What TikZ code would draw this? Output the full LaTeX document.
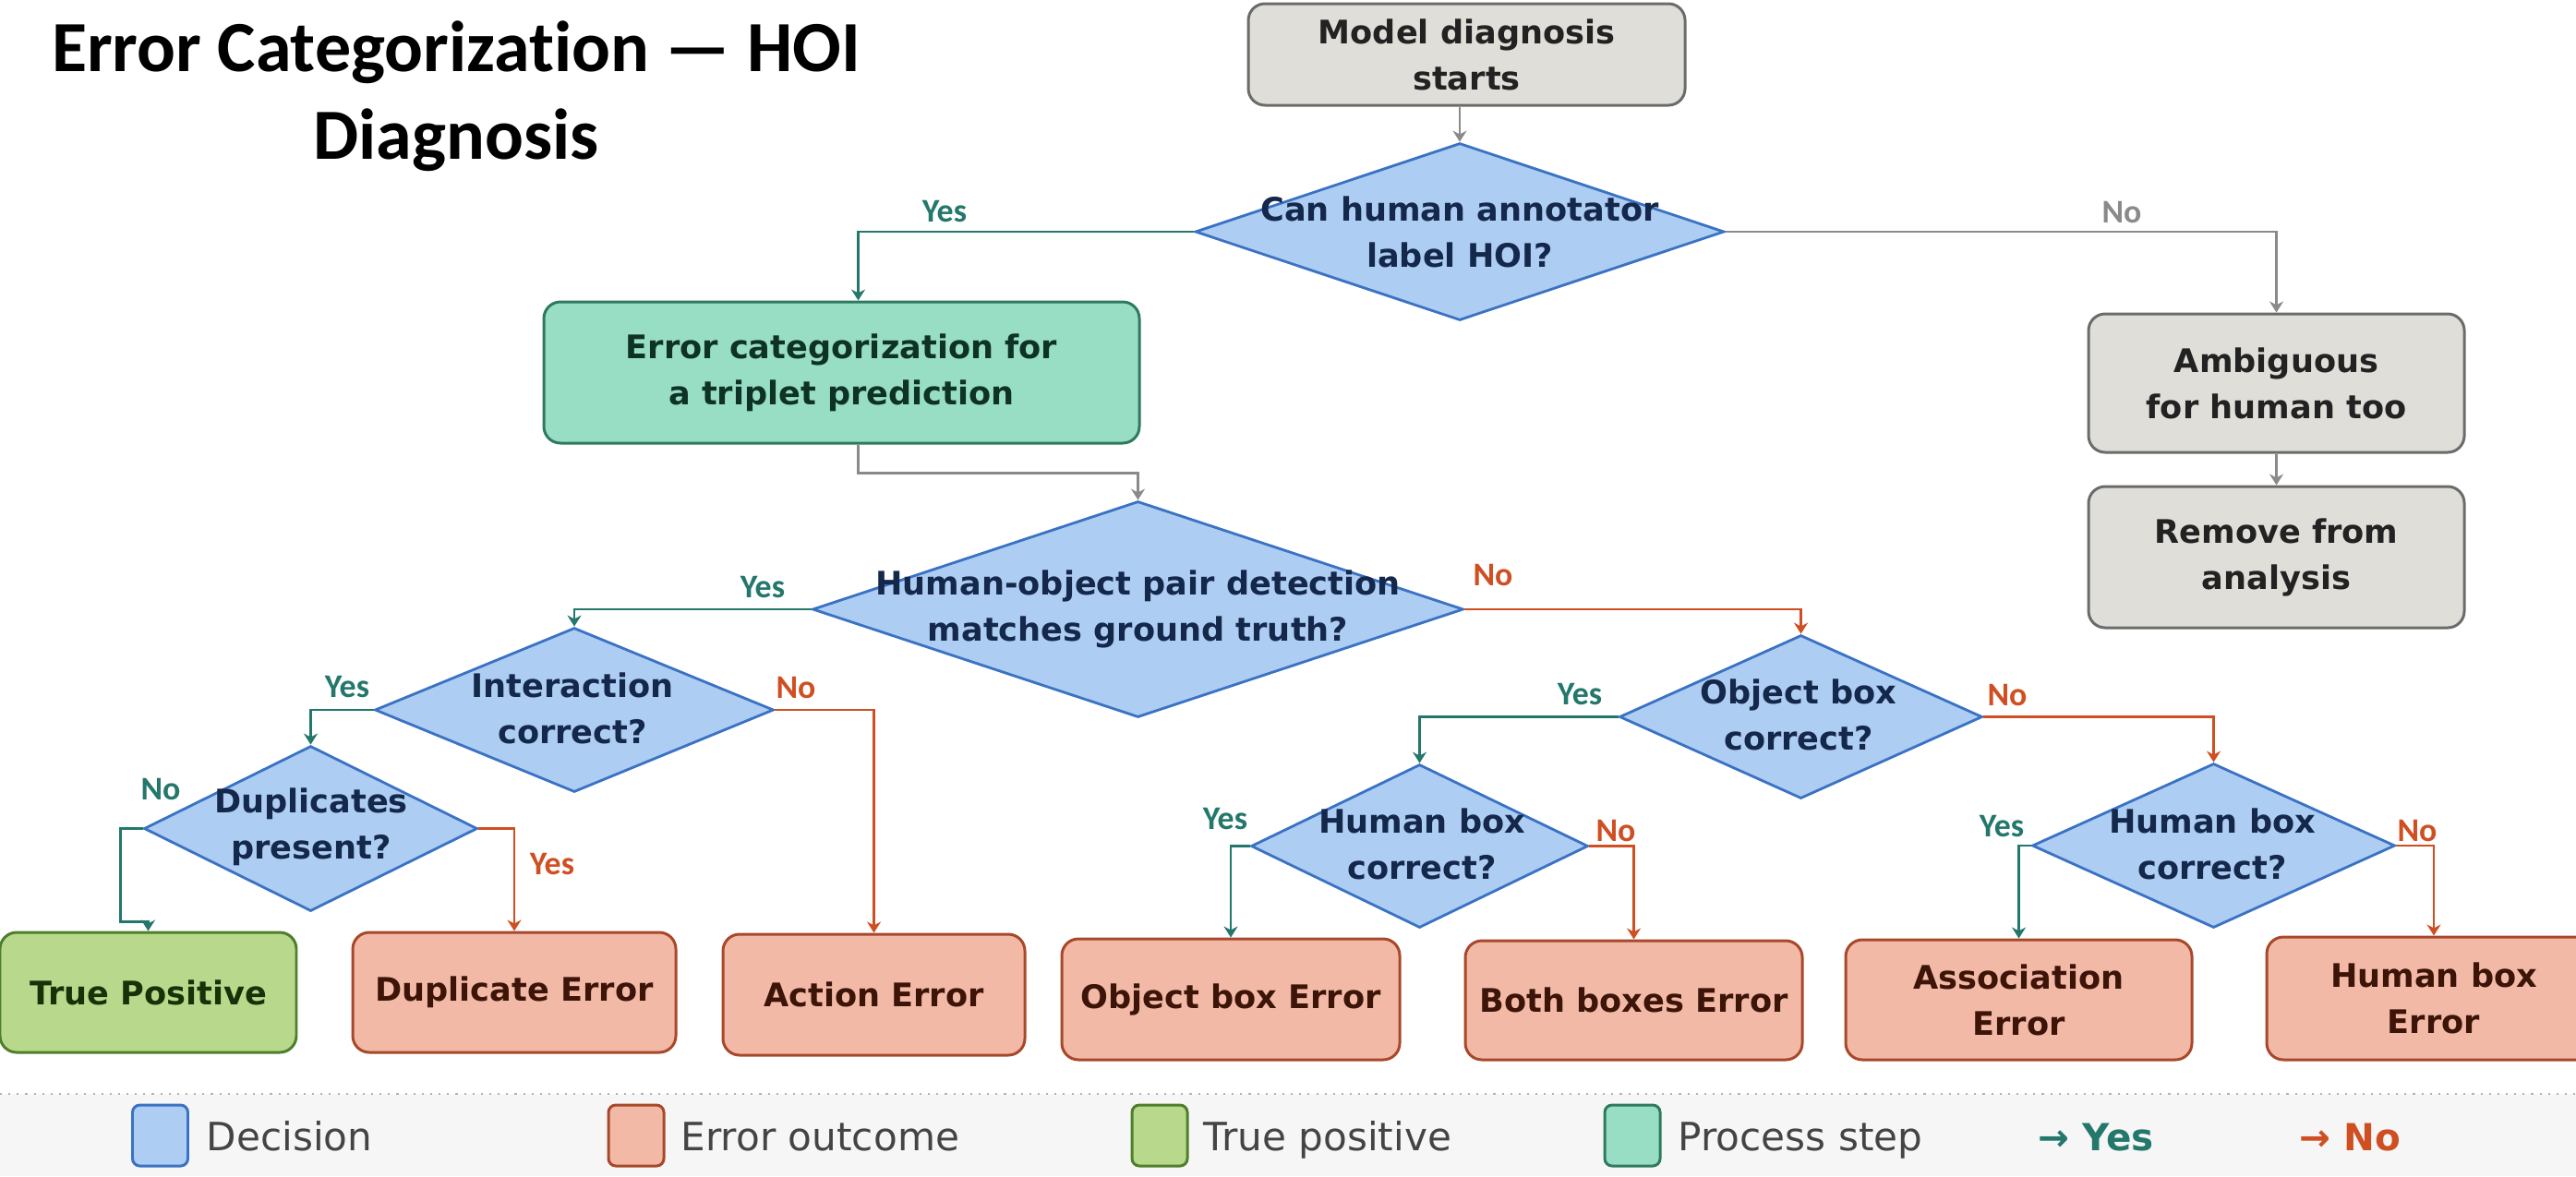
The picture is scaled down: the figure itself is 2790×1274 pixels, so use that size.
\documentclass[tikz,border=0pt]{standalone}
\usepackage{fontspec}
\setmainfont{DejaVu Sans}
\newfontfamily\titlefont[Ligatures=NoCommon]{Carlito}
\usetikzlibrary{shapes.geometric,arrows.meta}
\definecolor{decfill}{HTML}{AECDF2}
\definecolor{decline}{HTML}{3A72C4}
\definecolor{dectext}{HTML}{14284B}
\definecolor{errfill}{HTML}{F2B9A6}
\definecolor{errline}{HTML}{A8482A}
\definecolor{errtext}{HTML}{3D1408}
\definecolor{tpfill}{HTML}{B8D88B}
\definecolor{tpline}{HTML}{4F7F2A}
\definecolor{tptext}{HTML}{173208}
\definecolor{procfill}{HTML}{98DEC4}
\definecolor{procline}{HTML}{2E7A60}
\definecolor{proctext}{HTML}{0E3326}
\definecolor{grayfill}{HTML}{E0DED8}
\definecolor{grayline}{HTML}{6B6B6B}
\definecolor{graytext}{HTML}{222222}
\definecolor{yesc}{HTML}{23776B}
\definecolor{noc}{HTML}{CF4F23}
\definecolor{connc}{HTML}{8A8A8A}
\definecolor{legbg}{HTML}{F6F6F6}
\definecolor{legtxt}{HTML}{444444}
\tikzset{
  nodefont/.style={font=\bfseries\fontsize{10}{14.2}\selectfont},
  box/.style={rectangle, rounded corners=1.8mm, line width=0.85pt, inner sep=0, align=center, nodefont},
  graybox/.style={box, fill=grayfill, draw=grayline, text=graytext},
  procbox/.style={box, fill=procfill, draw=procline, text=proctext},
  errbox/.style={box, fill=errfill, draw=errline, text=errtext},
  tpbox/.style={box, fill=tpfill, draw=tpline, text=tptext},
  decision/.style={diamond, fill=decfill, draw=decline, line width=0.8pt, inner sep=0},
  dtext/.style={align=center, text=dectext, inner sep=0, nodefont},
  conn/.style={line width=0.7pt, -{Stealth[length=1.2mm,width=1.5mm]}},
  yesline/.style={conn, draw=yesc},
  noline/.style={conn, draw=noc},
  grayline/.style={conn, draw=connc},
  lab/.style={font=\titlefont\bfseries\fontsize{10.2}{12}\selectfont, inner sep=0},
  ylab/.style={lab, text=yesc},
  nlab/.style={lab, text=noc},
  glab/.style={lab, text=connc},
  swatch/.style={rectangle, rounded corners=0.8mm, line width=0.85pt, minimum width=6mm, minimum height=6.6mm, inner sep=0},
  legtext/.style={font=\fontsize{12}{14}\selectfont, text=legtxt, inner sep=0, anchor=base west},
  titlestyle/.style={font=\titlefont\bfseries\fontsize{22.2}{27}\selectfont, inner sep=0, anchor=base}
}
\begin{document}
\begin{tikzpicture}[x=0.1mm,y=-0.1mm]
\useasboundingbox (0,0) rectangle (2790,1274);
\clip (0,0) rectangle (2790,1274);

% title
\node[titlestyle] (t1) at (494,77) {Error Categorization — HOI};
\node[titlestyle] (t2) at (494,172) {Diagnosis};

% top boxes
\node[graybox, minimum width=47.3mm, minimum height=11mm] (start) at (1588.5,59) {Model diagnosis\\starts};
\node[decision, minimum width=57.3mm, minimum height=19.2mm] (d1) at (1581,251) {};
\node[dtext] (d1t) at (1581,251) {Can human annotator\\label HOI?};
\node[graybox, minimum width=40.7mm, minimum height=15mm] (amb) at (2465.5,415) {Ambiguous\\for human too};
\node[graybox, minimum width=40.7mm, minimum height=15.3mm] (rem) at (2465.5,603.5) {Remove from\\analysis};
\node[procbox, minimum width=64.5mm, minimum height=15.3mm] (proc) at (911.5,403.5) {Error categorization for\\a triplet prediction};

% decisions
\node[decision, minimum width=70.5mm, minimum height=23.4mm] (d2) at (1232.5,660) {};
\node[dtext] (d2t) at (1232.5,660) {Human-object pair detection\\matches ground truth?};
\node[decision, minimum width=43.2mm, minimum height=17.8mm] (d3) at (622,769) {};
\node[dtext] (d3t) at (620,767) {Interaction\\correct?};
\node[decision, minimum width=36.1mm, minimum height=17.9mm] (d5) at (336.5,897.5) {};
\node[dtext] (d5t) at (337,896) {Duplicates\\present?};
\node[decision, minimum width=39.3mm, minimum height=17.7mm] (d4) at (1950.5,776.5) {};
\node[dtext] (d4t) at (1948,774) {Object box\\correct?};
\node[decision, minimum width=36.5mm, minimum height=17.7mm] (d6) at (1537.5,916.5) {};
\node[dtext] (d6t) at (1540,914) {Human box\\correct?};
\node[decision, minimum width=39.3mm, minimum height=17.8mm] (d7) at (2397.5,916) {};
\node[dtext] (d7t) at (2396,914) {Human box\\correct?};

% outcomes
\node[tpbox, minimum width=32.1mm, minimum height=13mm] (tp) at (160.5,1075) {True Positive};
\node[errbox, minimum width=35mm, minimum height=13mm] (dup) at (557,1075) {Duplicate Error};
\node[errbox, minimum width=32.7mm, minimum height=13.1mm] (act) at (946.5,1077.5) {Action Error};
\node[errbox, minimum width=36.6mm, minimum height=13.1mm] (obj) at (1333,1082.5) {Object box Error};
\node[errbox, minimum width=36.5mm, minimum height=12.9mm] (both) at (1769.5,1083.5) {Both boxes Error};
\node[errbox, minimum width=37.5mm, minimum height=13mm] (assoc) at (2186.5,1083) {Association\\Error};
\node[errbox, minimum width=36.2mm, minimum height=13.3mm] (hbe) at (2636,1081.5) {Human box\\Error};

% connectors
\draw[grayline] (start.south -| d1.north) -- (d1.north);
\draw[yesline] (d1.west) -| ([xshift=1.8mm]proc.north);
\draw[grayline] (d1.east) -| (amb.north);
\draw[grayline] (amb.south) -- (rem.north);
\draw[grayline] ([xshift=1.8mm]proc.south) -- ++(0,31) -| (d2.north);
\draw[yesline] (d2.west) -| (d3.north);
\draw[noline] (d2.east) -| (d4.north);
\draw[yesline] (d3.west) -| (d5.north);
\draw[noline] (d3.east) -| (act.north);
\draw[yesline] (d5.west) -- ++(-24,0) -- ++(0,101) -| (tp.north);
\draw[noline] (d5.east) -| (dup.north);
\draw[yesline] (d4.west) -| (d6.north);
\draw[noline] (d4.east) -| (d7.north);
\draw[yesline] (d6.west) -| (obj.north);
\draw[noline] (d6.east) -| (both.north);
\draw[yesline] (d7.west) -| (assoc.north);
\draw[noline] (d7.east) -| (hbe.north);

% branch labels
\node[ylab] (l1y) at (1023,229) {Yes};
\node[glab] (l1n) at (2298,230) {No};
\node[ylab] (l2y) at (826,636) {Yes};
\node[nlab] (l2n) at (1617,623) {No};
\node[ylab] (l3y) at (376,744) {Yes};
\node[nlab] (l3n) at (862,745) {No};
\node[ylab] (l5n) at (174,855) {No};
\node[nlab] (l5y) at (598,936) {Yes};
\node[ylab] (l4y) at (1711,752) {Yes};
\node[nlab] (l4n) at (2174,753) {No};
\node[ylab] (l6y) at (1327,887) {Yes};
\node[nlab] (l6n) at (1750,900) {No};
\node[ylab] (l7y) at (2168,895) {Yes};
\node[nlab] (l7n) at (2618,900) {No};

% legend
\fill[legbg] (0,1185) rectangle (2790,1274);
\draw[draw=black!30, line width=0.6pt, dotted] (0,1185) -- (2790,1185);
\node[swatch, fill=decfill, draw=decline] (sw1) at (173.5,1230) {};
\node[legtext] (lt1) at (223,1246) {Decision};
\node[swatch, fill=errfill, draw=errline] (sw2) at (689,1230) {};
\node[legtext] (lt2) at (737,1246) {Error outcome};
\node[swatch, fill=tpfill, draw=tpline] (sw3) at (1256,1230) {};
\node[legtext] (lt3) at (1303,1246) {True positive};
\node[swatch, fill=procfill, draw=procline] (sw4) at (1768,1230) {};
\node[legtext] (lt4) at (1817,1246) {Process step};
\node[legtext, text=yesc, font=\bfseries\fontsize{11.5}{13}\selectfont] (lyes) at (2207,1246) {→ Yes};
\node[legtext, text=noc, font=\bfseries\fontsize{11.5}{13}\selectfont] (lno) at (2490,1246) {→ No};
\end{tikzpicture}
\end{document}
